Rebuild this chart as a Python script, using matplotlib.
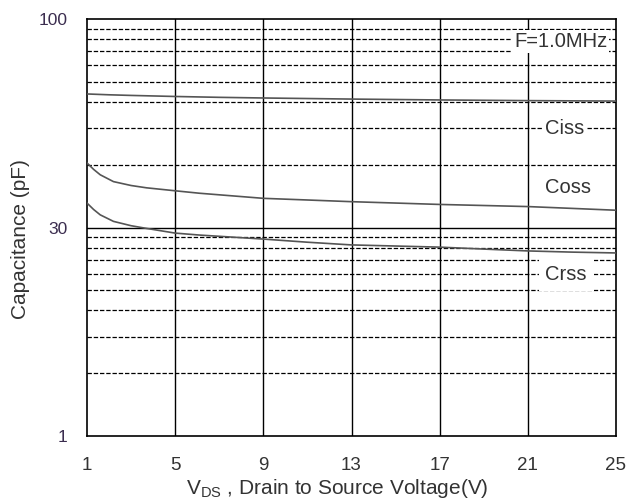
import numpy as np
import matplotlib
matplotlib.use("Agg")
import matplotlib.pyplot as plt

plt.rcParams['font.family'] = ['Liberation Sans', 'DejaVu Sans']

# data
vds_c = [1, 2, 3, 5, 7, 9, 13, 17, 21, 25]
ciss = [43.7, 43.3, 43.0, 42.5, 42.1, 41.8, 41.3, 40.9, 40.6, 40.4]
vds = [1, 1.3, 1.6, 2.2, 3.0, 3.7, 5, 6.1, 9, 11, 13, 15, 17, 19, 21, 23, 25]
coss = [20.4, 19.0, 17.9, 16.6, 15.9, 15.5, 15.0, 14.6, 13.8, 13.55, 13.3, 13.1, 12.9, 12.75, 12.6, 12.35, 12.1]
crss = [13.1, 12.2, 11.5, 10.7, 10.2, 9.9, 9.4, 9.2, 8.8, 8.5, 8.25, 8.15, 8.05, 7.88, 7.72, 7.62, 7.55]

x_ticks = [1, 5, 9, 13, 17, 21, 25]
y_ticks = [1, 10, 100]
y_tick_labels = ['1', '30', '100']

txt = '#333333'

fig = plt.figure(figsize=(6.37, 5.04), dpi=100)
ax = fig.add_axes([87 / 637, 68 / 504, 529 / 637, 417 / 504])

ax.set_xlim(1, 25)
ax.set_yscale('log')
ax.set_ylim(1, 100)

# minor dashed grid, major solid grid
for dec in [1, 10]:
    for m in range(2, 10):
        ax.axhline(dec * m, color='black', lw=0.9, ls=(0, (3.5, 1.5)), zorder=1)
ax.axhline(10, color='black', lw=1.0, zorder=1)
for xv in x_ticks[1:-1]:
    ax.axvline(xv, color='black', lw=1.0, zorder=1)

ax.plot(vds_c, ciss, color='#555555', lw=1.2, zorder=3)
ax.plot(vds, coss, color='#555555', lw=1.2, zorder=3)
ax.plot(vds, crss, color='#555555', lw=1.2, zorder=3)

ax.set_xticks(x_ticks)
ax.set_xticklabels([str(v) for v in x_ticks])
ax.set_yticks(y_ticks)
ax.set_yticklabels(y_tick_labels)
ax.yaxis.set_minor_locator(matplotlib.ticker.NullLocator())
ax.tick_params(length=0)
ax.tick_params(axis='x', pad=15, labelsize=13.5, labelcolor=txt)
ax.tick_params(axis='y', pad=14, labelsize=12.5, labelcolor='#3b2d4f')

for s in ax.spines.values():
    s.set_linewidth(1.2)

box = dict(facecolor='white', edgecolor='none', pad=1.5)
ax.text(24.6, 78, 'F=1.0MHz', ha='right', va='center', fontsize=14.5, color=txt, bbox=box, zorder=4)
ax.text(21.8, 30, 'Ciss', ha='left', va='center', fontsize=14.5, color=txt, bbox=box, zorder=4)
ax.text(21.8, 15.6, 'Coss', ha='left', va='center', fontsize=14.5, color=txt, bbox=box, zorder=4)
ax.text(21.8, 5.95, 'Crss', ha='left', va='center', fontsize=14.5, color=txt,
        bbox=dict(facecolor='white', edgecolor='none', pad=5), zorder=4)

ax.set_ylabel('Capacitance (pF)', fontsize=15, color=txt)
ax.yaxis.set_label_coords(-0.108, 0.472)
ax.set_xlabel(r'V$_{\mathregular{DS}}$ , Drain to Source Voltage(V)', fontsize=15, color=txt)
ax.xaxis.set_label_coords(0.473, -0.098)

fig.savefig('out.png', dpi=100)
